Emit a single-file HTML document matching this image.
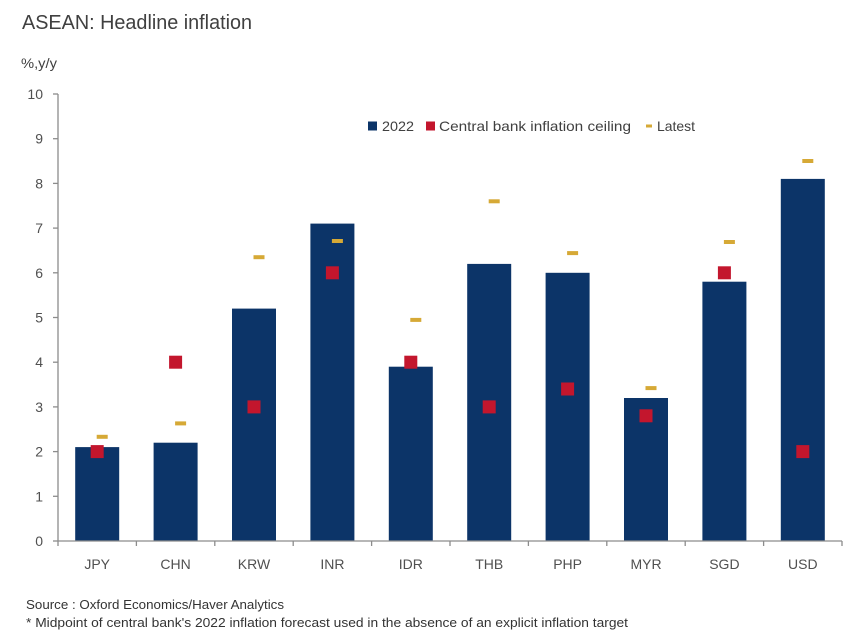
<!DOCTYPE html>
<html>
<head>
<meta charset="utf-8">
<style>
  html, body { margin:0; padding:0; background:#ffffff; }
  svg { display:block; }
  text { font-family: "Liberation Sans", "DejaVu Sans", sans-serif; }
</style>
</head>
<body>
<svg width="862" height="638" viewBox="0 0 862 638" xmlns="http://www.w3.org/2000/svg">
  <rect width="862" height="638" fill="#ffffff"/>

  <!-- Title -->
  <text x="22" y="29" font-size="20" fill="#404040" textLength="230" lengthAdjust="spacingAndGlyphs">ASEAN: Headline inflation</text>
  <text x="21" y="68" font-size="14" fill="#404040" textLength="36" lengthAdjust="spacingAndGlyphs">%,y/y</text>

  <!-- Y axis -->
  <g stroke="#8c8c8c" stroke-width="1.3" fill="none">
    <line x1="58" y1="94" x2="58" y2="541"/>
    <line x1="53" y1="94" x2="58" y2="94"/>
    <line x1="53" y1="138.7" x2="58" y2="138.7"/>
    <line x1="53" y1="183.4" x2="58" y2="183.4"/>
    <line x1="53" y1="228.1" x2="58" y2="228.1"/>
    <line x1="53" y1="272.8" x2="58" y2="272.8"/>
    <line x1="53" y1="317.5" x2="58" y2="317.5"/>
    <line x1="53" y1="362.2" x2="58" y2="362.2"/>
    <line x1="53" y1="406.9" x2="58" y2="406.9"/>
    <line x1="53" y1="451.6" x2="58" y2="451.6"/>
    <line x1="53" y1="496.3" x2="58" y2="496.3"/>
    <line x1="53" y1="541" x2="58" y2="541"/>
  </g>
  <g font-size="14" fill="#505050" text-anchor="end">
    <text x="43" y="99">10</text>
    <text x="43" y="143.7">9</text>
    <text x="43" y="188.4">8</text>
    <text x="43" y="233.1">7</text>
    <text x="43" y="277.8">6</text>
    <text x="43" y="322.5">5</text>
    <text x="43" y="367.2">4</text>
    <text x="43" y="411.9">3</text>
    <text x="43" y="456.6">2</text>
    <text x="43" y="501.3">1</text>
    <text x="43" y="546">0</text>
  </g>

  <!-- Bars -->
  <g fill="#0c3468">
    <rect x="75.2" y="447.1" width="44" height="93.9"/>
    <rect x="153.6" y="442.7" width="44" height="98.3"/>
    <rect x="232" y="308.6" width="44" height="232.4"/>
    <rect x="310.4" y="223.6" width="44" height="317.4"/>
    <rect x="388.8" y="366.7" width="44" height="174.3"/>
    <rect x="467.2" y="263.9" width="44" height="277.1"/>
    <rect x="545.6" y="272.8" width="44" height="268.2"/>
    <rect x="624" y="398" width="44" height="143"/>
    <rect x="702.4" y="281.7" width="44" height="259.3"/>
    <rect x="780.8" y="178.9" width="44" height="362.1"/>
  </g>

  <!-- X axis -->
  <g stroke="#8c8c8c" stroke-width="1.3" fill="none">
    <line x1="58" y1="541" x2="842" y2="541"/>
    <line x1="58" y1="541" x2="58" y2="546"/>
    <line x1="136.4" y1="541" x2="136.4" y2="546"/>
    <line x1="214.8" y1="541" x2="214.8" y2="546"/>
    <line x1="293.2" y1="541" x2="293.2" y2="546"/>
    <line x1="371.6" y1="541" x2="371.6" y2="546"/>
    <line x1="450" y1="541" x2="450" y2="546"/>
    <line x1="528.4" y1="541" x2="528.4" y2="546"/>
    <line x1="606.8" y1="541" x2="606.8" y2="546"/>
    <line x1="685.2" y1="541" x2="685.2" y2="546"/>
    <line x1="763.6" y1="541" x2="763.6" y2="546"/>
    <line x1="842" y1="541" x2="842" y2="546"/>
  </g>

  <!-- Red squares: central bank inflation ceiling -->
  <g fill="#c3162d">
    <rect x="90.7" y="445.1" width="13" height="13"/>
    <rect x="169.1" y="355.7" width="13" height="13"/>
    <rect x="247.5" y="400.4" width="13" height="13"/>
    <rect x="325.9" y="266.3" width="13" height="13"/>
    <rect x="404.3" y="355.7" width="13" height="13"/>
    <rect x="482.7" y="400.4" width="13" height="13"/>
    <rect x="561.1" y="382.5" width="13" height="13"/>
    <rect x="639.5" y="409.3" width="13" height="13"/>
    <rect x="717.9" y="266.3" width="13" height="13"/>
    <rect x="796.3" y="445.1" width="13" height="13"/>
  </g>

  <!-- Latest dashes -->
  <g fill="#d6a936">
    <rect x="96.7" y="434.8" width="11" height="4"/>
    <rect x="175.1" y="421.4" width="11" height="4"/>
    <rect x="253.5" y="255.2" width="11" height="4"/>
    <rect x="331.9" y="239" width="11" height="4"/>
    <rect x="410.3" y="317.9" width="11" height="4"/>
    <rect x="488.7" y="199.3" width="11" height="4"/>
    <rect x="567.1" y="251.1" width="11" height="4"/>
    <rect x="645.5" y="386.1" width="11" height="4"/>
    <rect x="723.9" y="240" width="11" height="4"/>
    <rect x="802.3" y="159" width="11" height="4"/>
  </g>

  <!-- X labels -->
  <g font-size="14" fill="#505050" text-anchor="middle">
    <text x="97.2" y="569">JPY</text>
    <text x="175.6" y="569">CHN</text>
    <text x="254" y="569">KRW</text>
    <text x="332.4" y="569">INR</text>
    <text x="410.8" y="569">IDR</text>
    <text x="489.2" y="569">THB</text>
    <text x="567.6" y="569">PHP</text>
    <text x="646" y="569">MYR</text>
    <text x="724.4" y="569">SGD</text>
    <text x="802.8" y="569">USD</text>
  </g>

  <!-- Legend -->
  <rect x="368" y="121.5" width="9" height="9" fill="#0c3468"/>
  <text x="382" y="131" font-size="14" fill="#404040" textLength="32" lengthAdjust="spacingAndGlyphs">2022</text>
  <rect x="426" y="121.5" width="9" height="9" fill="#c3162d"/>
  <text x="439" y="131" font-size="14" fill="#404040" textLength="192" lengthAdjust="spacingAndGlyphs">Central bank inflation ceiling</text>
  <rect x="646" y="124.5" width="6" height="3" fill="#d6a936"/>
  <text x="657" y="131" font-size="14" fill="#404040" textLength="38" lengthAdjust="spacingAndGlyphs">Latest</text>

  <!-- Footnotes -->
  <text x="26" y="609" font-size="13" fill="#333333" textLength="258" lengthAdjust="spacingAndGlyphs">Source : Oxford Economics/Haver Analytics</text>
  <text x="26" y="627" font-size="13" fill="#333333" textLength="602" lengthAdjust="spacingAndGlyphs">* Midpoint of central bank's 2022 inflation forecast used in the absence of an explicit inflation target</text>
</svg>
</body>
</html>
